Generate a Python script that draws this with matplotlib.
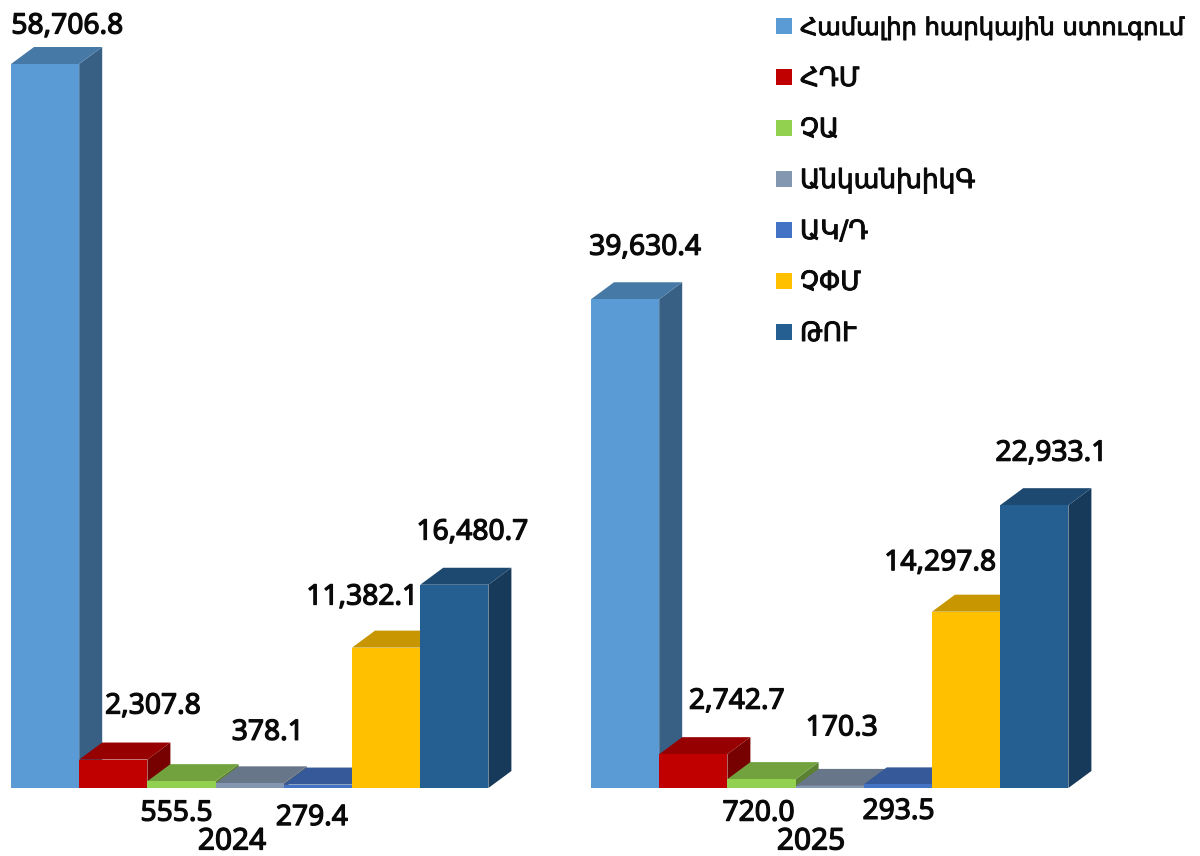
import matplotlib
matplotlib.use("Agg")
import matplotlib.pyplot as plt
import matplotlib.patheffects as pe
from matplotlib.patches import Polygon, Rectangle
from matplotlib.colors import to_rgb

years = ["2024", "2025"]
series = ["Համալիր հարկային ստուգում", "ՀԴՄ", "ՉԱ", "ԱնկանխիկԳ", "ԱԿ/Դ", "ՉՓՄ", "ԹՈՒ"]
values_2024 = [58706.8, 2307.8, 555.5, 378.1, 279.4, 11382.1, 16480.7]
values_2025 = [39630.4, 2742.7, 720.0, 170.3, 293.5, 14297.8, 22933.1]
colors = ["#5B9BD5", "#C00000", "#92D050", "#8497B0", "#4472C4", "#FFC000", "#255E91"]

W, H = 1200, 856
BASE_PX = 788
PX_PER_UNIT = 724 / 58706.8
BAR_W = 68.2
DX, DY_PX = 23, 17
DY = DY_PX / PX_PER_UNIT
starts = [11, 591]
year_centers = [232, 811]
# label offsets in pixels from the top-centre of each bar
offsets = [
    [(22, 38), (39.5, 53.5), (-5, -32), (18, 51), (-6, -33), (-24, 50.6), (18, 52.7)],
    [(20, 52), (43.5, 53), (-3, -34), (12, 58), (0.6, -27), (-26, 49), (17, 52)],
]
# legend layout in pixels from the top-left corner
LEG_SWATCH_X, LEG_TEXT_X, LEG_TOP, LEG_STEP, LEG_SWATCH = 776, 800, 26, 51, 16
LEG_SIZES = [17.4, 19, 19, 19, 19, 19, 19]

NUM_FONT = "Noto Sans"
INK = "#0a0a0a"
fake_bold = [pe.withStroke(linewidth=0.9, foreground=INK)]
fig = plt.figure(figsize=(W / 100, H / 100), dpi=100, facecolor="white")
ax = fig.add_axes([0, 0, 1, 1])
ax.set_xlim(0, W)
ax.set_ylim(-(H - BASE_PX) / PX_PER_UNIT, BASE_PX / PX_PER_UNIT)
ax.axis("off")


def shade(c, f):
    return tuple(v * f for v in to_rgb(c))


for g, vals in enumerate([values_2024, values_2025]):
    for i, v in enumerate(vals):
        x0 = starts[g] + i * BAR_W
        x1 = x0 + BAR_W
        c = colors[i]
        ax.add_patch(Polygon([(x1, 0), (x1 + DX, DY), (x1 + DX, v + DY), (x1, v)],
                             closed=True, fc=shade(c, 0.62), ec="none", zorder=2 + i))
        ax.add_patch(Polygon([(x0, v), (x1, v), (x1 + DX, v + DY), (x0 + DX, v + DY)],
                             closed=True, fc=shade(c, 0.78), ec="none", zorder=2 + i))
        ax.bar(x0, v, width=BAR_W, align="edge", color=c, zorder=2 + i + 0.5)
        ax.annotate(f"{v:,.1f}", xy=(x0 + BAR_W / 2, v), xytext=offsets[g][i],
                    textcoords="offset pixels", ha="center", va="center",
                    fontsize=20.3, family=NUM_FONT, color=INK, zorder=20,
                    path_effects=fake_bold)
    ax.annotate(years[g], xy=(year_centers[g], 0), xytext=(0, -54), textcoords="offset pixels",
                ha="center", va="center", fontsize=21.5, family=NUM_FONT, color=INK, zorder=20,
                path_effects=fake_bold)

for i, (label, c) in enumerate(zip(series, colors)):
    cy = LEG_TOP + i * LEG_STEP
    ax.add_patch(Rectangle((LEG_SWATCH_X / W, 1 - (cy + LEG_SWATCH / 2) / H),
                           LEG_SWATCH / W, LEG_SWATCH / H,
                           transform=ax.transAxes, fc=c, ec="none", zorder=20))
    ax.text(LEG_TEXT_X / W, 1 - (cy + 9) / H, label, transform=ax.transAxes,
            ha="left", va="baseline", family="DejaVu Sans", fontsize=LEG_SIZES[i], color=INK,
            zorder=20, path_effects=[pe.withStroke(linewidth=0.7, foreground=INK)])

fig.savefig("out.png", dpi=100, facecolor="white")
